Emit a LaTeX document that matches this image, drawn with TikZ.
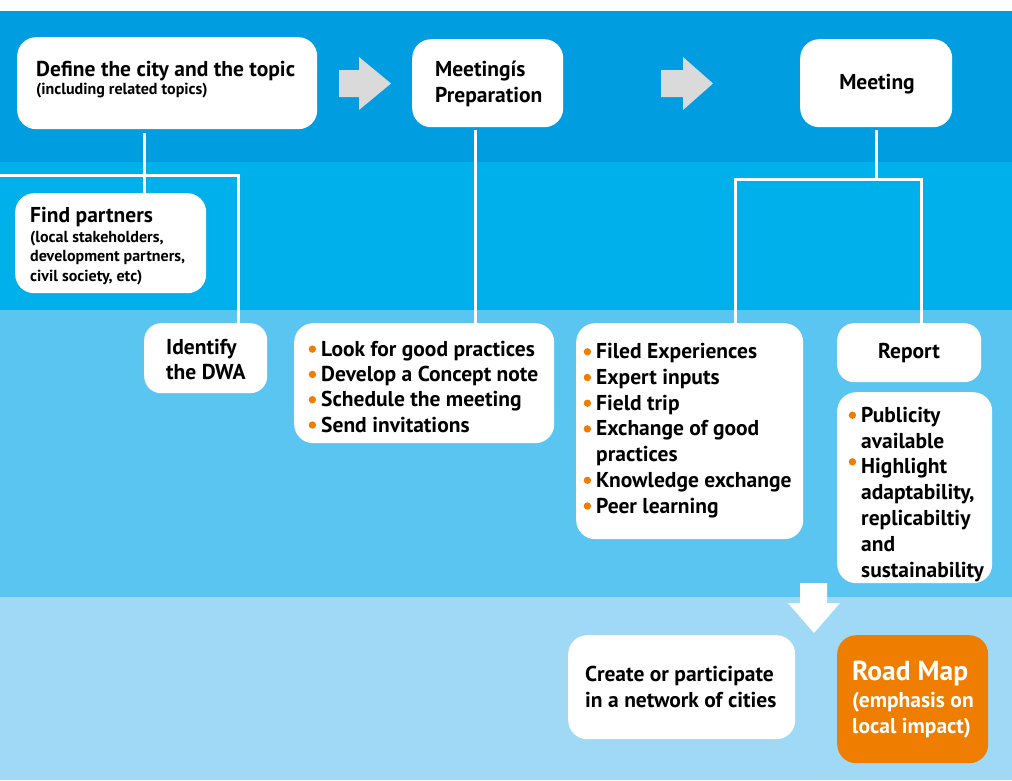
\documentclass[tikz,border=0pt]{standalone}
\usepackage{fontspec}
\setmainfont{PT Sans}
\definecolor{bandA}{HTML}{009EE0}
\definecolor{bandB}{HTML}{00B0EB}
\definecolor{bandC}{HTML}{5BC5F2}
\definecolor{bandD}{HTML}{A0D9F6}
\definecolor{orng}{HTML}{EF7D00}
\definecolor{agray}{HTML}{DADADA}
\newcommand\fmain{\fontsize{21.5}{25.6}\selectfont\bfseries}
\newcommand\fsml{\fontsize{16}{19.5}\selectfont\bfseries}
\newcommand\froad{\fontsize{27.5}{28}\selectfont\bfseries}
\newcommand\obul[1][7]{\makebox[12.5pt][l]{\tikz[x=1pt,y=1pt,baseline=0pt]\fill[orng] (3.7,#1) circle[radius=3.7];}}
\newcommand\oind{\makebox[12.5pt]{}}
\begin{document}
\begin{tikzpicture}[x=1pt,y=-1pt,
  box/.style={fill=white, rounded corners=19pt, inner sep=0pt, anchor=north west},
  conn/.style={draw=white, line width=3pt},
  txt/.style={anchor=base west, inner sep=0pt, align=left, font=\fmain},
  stxt/.style={txt, font=\fsml}]
\useasboundingbox (0,0) rectangle (1012,780);
\fill[white] (0,0) rectangle (1012,780);
\fill[bandA] (0,11) rectangle (1012,162);
\fill[bandB] (0,162) rectangle (1012,310);
\fill[bandC] (0,310) rectangle (1012,597);
\fill[bandD] (0,597) rectangle (1012,780);

% boxes
\node[box, minimum width=300pt, minimum height=92pt] (def) at (17,37) {};
\node[box, minimum width=151pt, minimum height=88pt] (prep) at (412,39) {};
\node[box, minimum width=152pt, minimum height=88pt] (meet) at (800,39) {};
\node[box, minimum width=191pt, minimum height=100pt] (fp) at (15,193) {};
\node[box, minimum width=123pt, minimum height=70pt, rounded corners=17pt] (idn) at (144,323) {};
\node[box, minimum width=260pt, minimum height=120pt] (lst) at (294,323) {};
\node[box, minimum width=227pt, minimum height=216pt] (fil) at (576,323) {};
\node[box, minimum width=144pt, minimum height=59pt, rounded corners=17pt] (rep) at (837,323) {};
\node[box, minimum width=155pt, minimum height=191pt] (pub) at (837,392) {};
\node[box, minimum width=227pt, minimum height=104pt] (cre) at (568,635) {};
\node[box, fill=orng, minimum width=151pt, minimum height=128pt] (road) at (837,635) {};

% grey arrows
\fill[agray] (339,70) -- (359,70) -- (359,57) -- (391,83.5) -- (359,110) -- (359,97) -- (339,97) -- cycle;
\fill[agray] (661,70) -- (683,70) -- (683,57) -- (713,83.5) -- (683,110) -- (683,97) -- (661,97) -- cycle;
% white down arrow
\fill[white] (800,583) -- (827,583) -- (827,603) -- (840,603) -- (814,633) -- (788,603) -- (800,603) -- cycle;

% connectors
\coordinate (d1) at (144,133);
\draw[conn] (d1) -- (d1 |- fp.north);
\coordinate (l0) at (0,175);
\coordinate (l1) at (238,175);
\draw[conn] (l0) -- (l1) -- (l1 |- idn.north);
\coordinate (p1) at (475,130);
\draw[conn] (p1) -- (p1 |- lst.north);
\coordinate (m1) at (876,130);
\coordinate (m2) at (876,179);
\coordinate (ml) at (735,179);
\coordinate (mr) at (921,179);
\draw[conn] (m1) -- (m2);
\draw[conn] (ml |- fil.north) -- (ml) -- (mr) -- (mr |- rep.north);

% texts (multi-line nodes are anchored at the baseline of their last line)
\node[txt] (tdef) at (36,76) {Define the city and the topic};
\node[stxt] (tdef2) at (36,94) {(including related topics)};
\node[txt, font=\fontsize{21.5}{26}\selectfont\bfseries] (tprep) at (435,102) {Meetingís\\Preparation};
\node[txt, anchor=base] (tmeet) at (877,89) {Meeting};
\node[txt] (tfp) at (30,222) {Find partners};
\node[stxt] (tfp2) at (30,281) {(local stakeholders,\\development partners,\\civil society, etc)};
\node[txt, font=\fontsize{21.5}{25}\selectfont\bfseries] (tidn) at (166,379) {Identify\\the DWA};
\node[txt, font=\fontsize{21.5}{25.3}\selectfont\bfseries] (tlst) at (308.5,432) {\obul Look for good practices\\\obul Develop a Concept note\\\obul Schedule the meeting\\\obul Send invitations};
\node[txt, font=\fontsize{21.5}{25.7}\selectfont\bfseries] (tfil) at (583.5,513) {\obul Filed Experiences\\\obul Expert inputs\\\obul Field trip\\\obul Exchange of good\\\oind practices\\\obul Knowledge exchange\\\obul Peer learning};
\node[txt, anchor=base] (trep) at (909,358) {Report};
\node[txt, font=\fontsize{21.5}{25.8}\selectfont\bfseries] (tpub) at (848.5,577) {\obul Publicity\\\oind available\\\obul[12]Highlight\\\oind adaptability,\\\oind replicabiltiy\\\oind and\\\oind sustainability};
\node[txt, font=\fontsize{21.5}{26}\selectfont\bfseries] (tcre) at (585,707) {Create or participate\\in a network of cities};
\node[txt, font=\froad, text=white] (troad) at (852,680) {Road Map};
\node[txt, font=\fontsize{21.5}{26}\selectfont\bfseries, text=white] (troad2) at (852,733) {(emphasis on\\local impact)};
\end{tikzpicture}
\end{document}
